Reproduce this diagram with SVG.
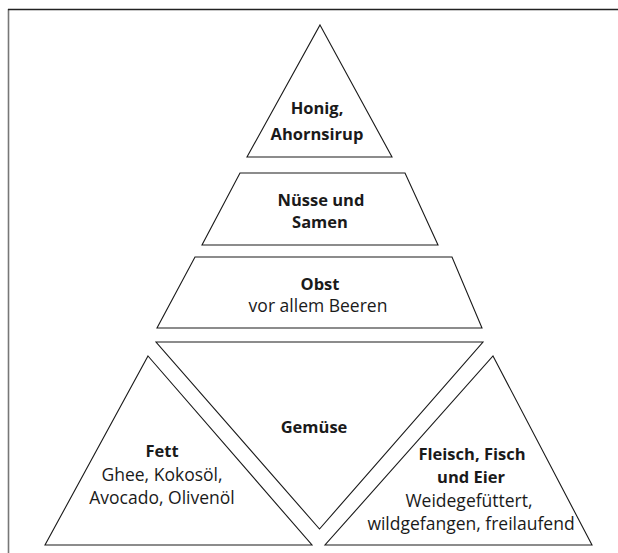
<svg xmlns="http://www.w3.org/2000/svg" width="618" height="553" viewBox="0 0 618 553">
<style>
.shape{fill:#fff;stroke:#1a1a1a;stroke-width:1.1;stroke-linejoin:miter}
.b{font-family:"Open Sans","Liberation Sans",sans-serif;font-weight:700;font-size:16.5px;fill:#1a1a1a;text-anchor:middle}
.r{font-family:"Open Sans","Liberation Sans",sans-serif;font-weight:400;font-size:17.5px;fill:#1a1a1a;text-anchor:middle}
</style>
<rect width="618" height="553" fill="#fff"/>
<g id="frame">
<line x1="8.5" y1="553" x2="8.5" y2="9" stroke="#777" stroke-width="1.6"/>
<line x1="8" y1="9.5" x2="618" y2="9.5" stroke="#222" stroke-width="1.4"/>
</g>
<g id="honig">
<polygon class="shape" points="320,25 392,157 247,157"/>
<text class="b" x="317" y="114">Honig,</text>
<text class="b" x="317" y="140">Ahornsirup</text>
</g>
<g id="nuesse">
<polygon class="shape" points="240,173 405,173 438,245 202,245"/>
<text class="b" x="321" y="206">Nüsse und</text>
<text class="b" x="320" y="228">Samen</text>
</g>
<g id="obst">
<polygon class="shape" points="195,257 452,257 482,328 157,328"/>
<text class="b" x="320" y="290">Obst</text>
<text class="r" x="318" y="312">vor allem Beeren</text>
</g>
<g id="gemuese">
<polygon class="shape" points="156,342 483,342 319.5,529"/>
<text class="b" x="314" y="433">Gemüse</text>
</g>
<g id="fett">
<polygon class="shape" points="148,356 312,545 45,545"/>
<text class="b" x="162" y="457">Fett</text>
<text class="r" x="162" y="481">Ghee, Kokosöl,</text>
<text class="r" x="162" y="504">Avocado, Olivenöl</text>
</g>
<g id="fleisch">
<polygon class="shape" points="493,356 592,545 325,545"/>
<text class="b" x="472" y="460">Fleisch, Fisch</text>
<text class="b" x="471" y="483">und Eier</text>
<text class="r" x="469" y="507">Weidegefüttert,</text>
<text class="r" x="471" y="530">wildgefangen, freilaufend</text>
</g>
<g id="connectors"></g>
</svg>
